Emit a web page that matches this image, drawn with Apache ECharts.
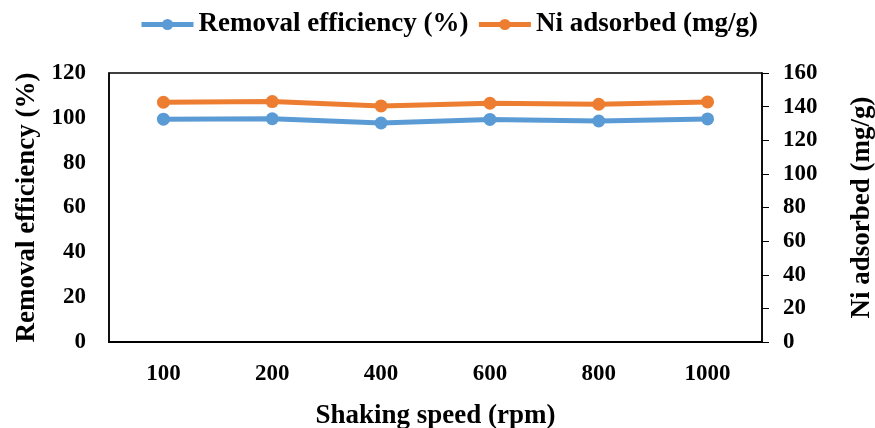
<!DOCTYPE html>
<html>
<head>
<meta charset="utf-8">
<script src="https://cdn.jsdelivr.net/npm/echarts@6/dist/echarts.min.js"></script>
<style>html,body{margin:0;padding:0;background:#fff;overflow:hidden;}#c{width:100vw;height:100vh;}</style>
</head>
<body>
<div id="c"></div>
<script>
var categories = ['100', '200', '400', '600', '800', '1000'];
var removalEfficiency = [99.4, 99.6, 97.7, 99.3, 98.6, 99.5];
var niAdsorbed = [142.6, 143.0, 140.4, 142.0, 141.4, 142.8];
var leftTicks = [0, 120, 20];
var rightTicks = [0, 160, 20];

var font = 'Liberation Serif';
var chart = echarts.init(document.getElementById('c'));
chart.setOption({
  animation: false,
  legend: {
    top: 6,
    left: 134,
    itemWidth: 52,
    itemHeight: 14,
    itemGap: 8,
    lineStyle: { width: 5 },
    textStyle: { fontFamily: font, fontWeight: 'bold', fontSize: 27, color: '#000' },
    data: ['Removal efficiency (%)', 'Ni adsorbed (mg/g)']
  },
  grid: {
    left: 109, right: 113, top: 73, bottom: 86,
    outerBoundsMode: 'none',
    containLabel: false,
    show: true, borderColor: '#000', borderWidth: 1.5, backgroundColor: 'transparent'
  },
  xAxis: {
    type: 'category',
    data: categories,
    axisLine: { lineStyle: { color: '#000', width: 2 } },
    axisTick: { show: false },
    axisLabel: { margin: 21, fontFamily: font, fontWeight: 'bold', fontSize: 23, color: '#000' },
    name: 'Shaking speed (rpm)',
    nameLocation: 'middle',
    nameGap: 61,
    nameTextStyle: { fontFamily: font, fontWeight: 'bold', fontSize: 27, color: '#000' }
  },
  yAxis: [{
    type: 'value',
    min: leftTicks[0], max: leftTicks[1], interval: leftTicks[2],
    axisLine: { show: true, lineStyle: { color: '#000', width: 1.5 } },
    axisTick: { show: false },
    splitLine: { show: false },
    axisLabel: { margin: 23, fontFamily: font, fontWeight: 'bold', fontSize: 23, color: '#000' },
    name: 'Removal efficiency (%)',
    nameLocation: 'middle',
    nameRotate: 90,
    nameGap: 57,
    nameTextStyle: { fontFamily: font, fontWeight: 'bold', fontSize: 27, color: '#000' }
  }, {
    type: 'value',
    position: 'right',
    min: rightTicks[0], max: rightTicks[1], interval: rightTicks[2],
    axisLine: { show: true, lineStyle: { color: '#000', width: 1.5 } },
    axisTick: { show: true, length: 7, lineStyle: { color: '#000', width: 1 } },
    splitLine: { show: false },
    axisLabel: { margin: 21, fontFamily: font, fontWeight: 'bold', fontSize: 23, color: '#000' },
    name: 'Ni adsorbed (mg/g)',
    nameLocation: 'middle',
    nameRotate: 90,
    nameGap: 87,
    nameTextStyle: { fontFamily: font, fontWeight: 'bold', fontSize: 27, color: '#000' }
  }],
  series: [{
    name: 'Removal efficiency (%)',
    type: 'line',
    yAxisIndex: 0,
    data: removalEfficiency,
    symbol: 'circle',
    symbolSize: 13,
    lineStyle: { width: 5, color: '#5B9BD5' },
    itemStyle: { color: '#5B9BD5' }
  }, {
    name: 'Ni adsorbed (mg/g)',
    type: 'line',
    yAxisIndex: 1,
    data: niAdsorbed,
    symbol: 'circle',
    symbolSize: 13,
    lineStyle: { width: 5, color: '#ED7D31' },
    itemStyle: { color: '#ED7D31' }
  }]
});
</script>
</body>
</html>
